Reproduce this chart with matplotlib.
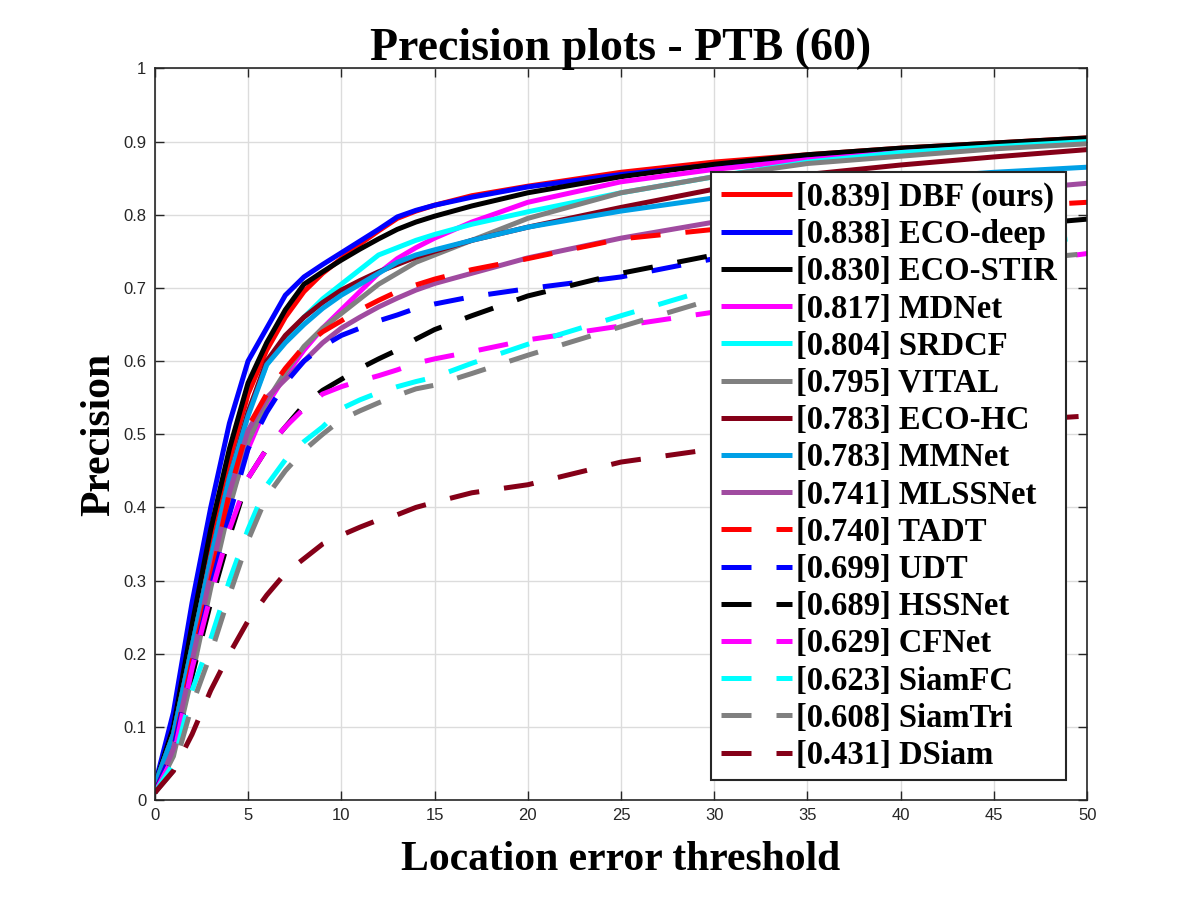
import matplotlib
matplotlib.use("Agg")
import matplotlib.pyplot as plt

thresholds = [0, 1, 2, 3, 4, 5, 6, 7, 8, 9, 10, 11, 12, 13, 14, 15, 17, 20, 25, 30, 35, 40, 45, 50]

names = ["DBF (ours)", "ECO-deep", "ECO-STIR", "MDNet", "SRDCF", "VITAL", "ECO-HC", "MMNet",
         "MLSSNet", "TADT", "UDT", "HSSNet", "CFNet", "SiamFC", "SiamTri", "DSiam"]
scores = [0.839, 0.838, 0.830, 0.817, 0.804, 0.795, 0.783, 0.783,
          0.741, 0.740, 0.699, 0.689, 0.629, 0.623, 0.608, 0.431]

dbf      = [0.02, 0.10, 0.23, 0.35, 0.46, 0.555, 0.615, 0.66, 0.695, 0.72, 0.74, 0.76, 0.778, 0.795, 0.805, 0.813, 0.826, 0.839, 0.858, 0.872, 0.882, 0.891, 0.898, 0.905]
eco_deep = [0.02, 0.12, 0.27, 0.40, 0.515, 0.60, 0.645, 0.69, 0.715, 0.732, 0.748, 0.764, 0.78, 0.797, 0.806, 0.813, 0.824, 0.838, 0.855, 0.868, 0.879, 0.888, 0.894, 0.90]
eco_stir = [0.02, 0.10, 0.24, 0.37, 0.48, 0.57, 0.625, 0.67, 0.705, 0.722, 0.738, 0.753, 0.767, 0.78, 0.79, 0.798, 0.812, 0.830, 0.852, 0.869, 0.882, 0.891, 0.898, 0.905]
mdnet    = [0.01, 0.08, 0.20, 0.31, 0.41, 0.48, 0.54, 0.58, 0.615, 0.645, 0.67, 0.695, 0.72, 0.74, 0.755, 0.768, 0.79, 0.817, 0.845, 0.862, 0.875, 0.885, 0.892, 0.898]
srdcf    = [0.02, 0.09, 0.21, 0.33, 0.44, 0.53, 0.595, 0.63, 0.66, 0.685, 0.705, 0.725, 0.745, 0.755, 0.765, 0.773, 0.787, 0.804, 0.83, 0.852, 0.872, 0.885, 0.893, 0.90]
vital    = [0.01, 0.06, 0.17, 0.29, 0.40, 0.49, 0.545, 0.585, 0.62, 0.645, 0.665, 0.685, 0.705, 0.72, 0.735, 0.745, 0.765, 0.795, 0.83, 0.852, 0.87, 0.88, 0.89, 0.897]
eco_hc   = [0.02, 0.09, 0.21, 0.33, 0.44, 0.53, 0.60, 0.635, 0.66, 0.68, 0.697, 0.71, 0.722, 0.732, 0.742, 0.75, 0.765, 0.783, 0.81, 0.835, 0.855, 0.868, 0.879, 0.889]
mmnet    = [0.02, 0.09, 0.21, 0.33, 0.44, 0.525, 0.595, 0.625, 0.65, 0.672, 0.69, 0.705, 0.72, 0.735, 0.745, 0.752, 0.765, 0.783, 0.805, 0.823, 0.838, 0.849, 0.858, 0.865]
mlssnet  = [0.01, 0.07, 0.19, 0.31, 0.42, 0.505, 0.55, 0.575, 0.60, 0.625, 0.645, 0.66, 0.674, 0.686, 0.697, 0.706, 0.72, 0.741, 0.768, 0.79, 0.806, 0.82, 0.832, 0.843]
tadt     = [0.01, 0.07, 0.19, 0.30, 0.42, 0.51, 0.555, 0.59, 0.62, 0.64, 0.655, 0.67, 0.683, 0.695, 0.704, 0.712, 0.725, 0.740, 0.767, 0.78, 0.792, 0.802, 0.81, 0.817]
udt      = [0.01, 0.07, 0.18, 0.29, 0.39, 0.48, 0.53, 0.57, 0.60, 0.62, 0.635, 0.645, 0.655, 0.663, 0.672, 0.678, 0.688, 0.699, 0.715, 0.74, 0.75, 0.762, 0.772, 0.78]
hssnet   = [0.01, 0.06, 0.17, 0.27, 0.36, 0.44, 0.48, 0.51, 0.54, 0.56, 0.575, 0.59, 0.603, 0.615, 0.63, 0.643, 0.662, 0.689, 0.72, 0.745, 0.76, 0.772, 0.783, 0.794]
cfnet    = [0.01, 0.06, 0.18, 0.28, 0.37, 0.44, 0.48, 0.51, 0.535, 0.555, 0.565, 0.573, 0.58, 0.588, 0.597, 0.603, 0.613, 0.629, 0.648, 0.667, 0.69, 0.71, 0.73, 0.747]
siamfc   = [0.01, 0.05, 0.15, 0.22, 0.30, 0.37, 0.43, 0.465, 0.49, 0.51, 0.535, 0.547, 0.557, 0.565, 0.572, 0.578, 0.597, 0.623, 0.662, 0.70, 0.72, 0.74, 0.755, 0.77]
siamtri  = [0.01, 0.04, 0.13, 0.20, 0.28, 0.355, 0.415, 0.45, 0.478, 0.50, 0.52, 0.532, 0.543, 0.553, 0.562, 0.567, 0.583, 0.608, 0.647, 0.685, 0.705, 0.72, 0.735, 0.747]
dsiam    = [0.01, 0.04, 0.09, 0.15, 0.20, 0.245, 0.28, 0.31, 0.33, 0.35, 0.362, 0.373, 0.383, 0.39, 0.40, 0.407, 0.42, 0.431, 0.462, 0.48, 0.495, 0.507, 0.517, 0.525]

series = [dbf, eco_deep, eco_stir, mdnet, srdcf, vital, eco_hc, mmnet,
          mlssnet, tadt, udt, hssnet, cfnet, siamfc, siamtri, dsiam]
colors = ["#FF0000", "#0000FF", "#000000", "#FF00FF", "#00FFFF", "#808080", "#850018", "#00A0E6",
          "#A04BA0", "#FF0000", "#0000FF", "#000000", "#FF00FF", "#00FFFF", "#808080", "#850018"]
dashed = [False] * 9 + [True] * 7

serif = ["Liberation Serif", "DejaVu Serif"]
sans = ["Liberation Sans", "DejaVu Sans"]

fig = plt.figure(figsize=(12, 9), dpi=100)
ax = fig.add_axes([0.129, 0.111, 0.777, 0.813])

for name, sc, ys, c, d in zip(names, scores, series, colors, dashed):
    ls = (0, (6, 5)) if d else "-"
    ax.plot(thresholds, ys, color=c, lw=3.6, linestyle=ls,
            label=f"[{sc:.3f}] {name}", solid_capstyle="butt", dash_capstyle="butt")

ax.set_xlim(0, 50)
ax.set_ylim(0, 1)
ax.set_xticks(range(0, 51, 5))
ax.set_yticks([i / 10 for i in range(11)])
ax.set_yticklabels(["0", "0.1", "0.2", "0.3", "0.4", "0.5", "0.6", "0.7", "0.8", "0.9", "1"])
ax.grid(True, color="#DCDCDC", lw=1.0)
ax.set_axisbelow(True)
ax.tick_params(direction="in", length=6.5, width=1.0, top=True, right=True,
               labelsize=12, colors="#262626", pad=6)
for lab in ax.get_xticklabels() + ax.get_yticklabels():
    lab.set_family(sans)
for sp in ax.spines.values():
    sp.set_color("#262626")
    sp.set_linewidth(1.2)

ax.set_title("Precision plots - PTB (60)", family=serif, fontweight="bold", fontsize=33, pad=6)
ax.set_xlabel("Location error threshold", family=serif, fontweight="bold", fontsize=30, labelpad=13)
ax.set_ylabel("Precision", family=serif, fontweight="bold", fontsize=30, labelpad=4)

leg = ax.legend(loc="upper right", bbox_to_anchor=(0.977, 0.858), borderaxespad=0,
                prop={"family": serif, "weight": "bold", "size": 23.5},
                handlelength=2.17, handletextpad=0.12, labelspacing=0.19,
                borderpad=0.29, fancybox=False, framealpha=1, edgecolor="#262626")
leg.get_frame().set_linewidth(1.5)

fig.savefig("out.png", dpi=100)
